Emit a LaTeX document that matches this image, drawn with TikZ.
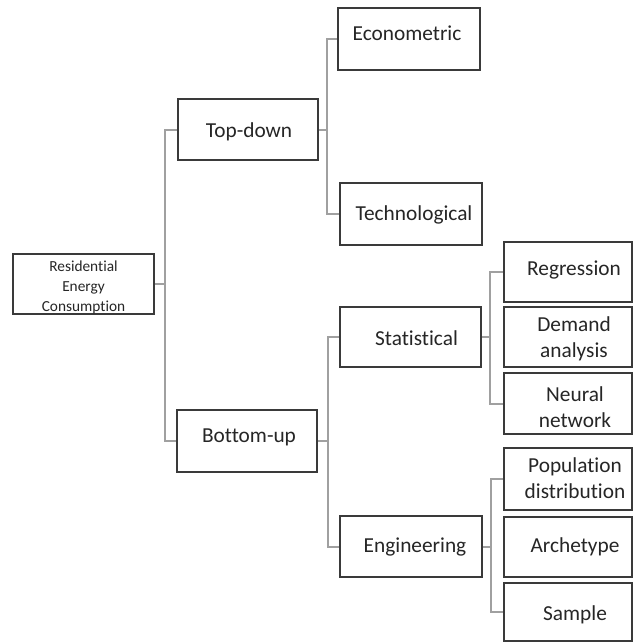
\documentclass[tikz,border=0pt]{standalone}
\usepackage{fontspec}
\setmainfont[Ligatures=NoCommon]{Carlito}
\usetikzlibrary{fit,calc}
\definecolor{boxline}{HTML}{3A3A3A}
\definecolor{connline}{HTML}{A0A0A0}
\definecolor{txtcol}{HTML}{262626}
\begin{document}
\begin{tikzpicture}[x=0.75pt,y=-0.75pt,
  box/.style={draw=boxline,line width=1.5pt,inner sep=0pt,fill=white},
  txt/.style={inner sep=0pt,text=txtcol,align=center,font=\fontsize{16}{19.5}\selectfont},
  roottxt/.style={txt,font=\fontsize{11.5}{15}\selectfont},
  conn/.style={draw=connline,line width=1.5pt}]
\useasboundingbox (0,0) rectangle (634,643);
% boxes
\node[box,fit={(13,254) (154,314)}] (root) {};
\node[roottxt] at ($(root.center)+(0,3)$) (rootT) {Residential\\Energy\\Consumption};
\node[box,fit={(178,99) (318,160)}] (td) {};
\node[txt] at ($(td.center)+(1,2)$) (tdT) {Top-down};
\node[box,fit={(177,410) (317,472)}] (bu) {};
\node[txt] at ($(bu.center)+(2,-4)$) (buT) {Bottom-up};
\node[box,fit={(338,8) (480,70)}] (econ) {};
\node[txt] at ($(econ.center)+(-2,-6)$) (econT) {Econometric};
\node[box,fit={(340,183) (482,245)}] (tech) {};
\node[txt] at ($(tech.center)+(3,1)$) (techT) {Technological};
\node[box,fit={(340,307) (481,367)}] (stat) {};
\node[txt] at ($(stat.center)+(6,1)$) (statT) {Statistical};
\node[box,fit={(340,516) (482,577)}] (eng) {};
\node[txt] at ($(eng.center)+(4,0)$) (engT) {Engineering};
\node[box,fit={(504,242) (632,302)}] (reg) {};
\node[txt] at ($(reg.center)+(6,-2)$) (regT) {Regression};
\node[box,fit={(504,307) (632,367)}] (dem) {};
\node[txt] at ($(dem.center)+(6,2)$) (demT) {Demand\\analysis};
\node[box,fit={(504,373) (632,434)}] (neu) {};
\node[txt] at ($(neu.center)+(7,4)$) (neuT) {Neural\\network};
\node[box,fit={(504,448) (632,510)}] (pop) {};
\node[txt] at ($(pop.center)+(7,-1)$) (popT) {Population\\distribution};
\node[box,fit={(504,517) (632,577)}] (arc) {};
\node[txt] at ($(arc.center)+(7,0)$) (arcT) {Archetype};
\node[box,fit={(504,583) (632,641)}] (smp) {};
\node[txt] at ($(smp.center)+(7,3)$) (smpT) {Sample};
% connectors
\coordinate (j0) at (165,0);
\draw[conn] (root.east) -- (root.east -| j0);
\draw[conn] (td.west) -| (j0 |- td.west) |- (bu.west);
\coordinate (j1) at (327,0);
\draw[conn] (td.east) -- (td.east -| j1);
\draw[conn] (econ.west) -| (j1 |- econ.west) |- (tech.west);
\coordinate (j2) at (328,0);
\draw[conn] (bu.east) -- (bu.east -| j2);
\draw[conn] (stat.west) -| (j2 |- stat.west) |- (eng.west);
\coordinate (j3) at (490,0);
\draw[conn] (stat.east) -- (stat.east -| j3);
\draw[conn] (reg.west) -| (j3 |- reg.west) |- (neu.west);
\coordinate (j4) at (491,0);
\draw[conn] (eng.east) -- (eng.east -| j4);
\draw[conn] (pop.west) -| (j4 |- pop.west) |- (smp.west);
\end{tikzpicture}
\end{document}
